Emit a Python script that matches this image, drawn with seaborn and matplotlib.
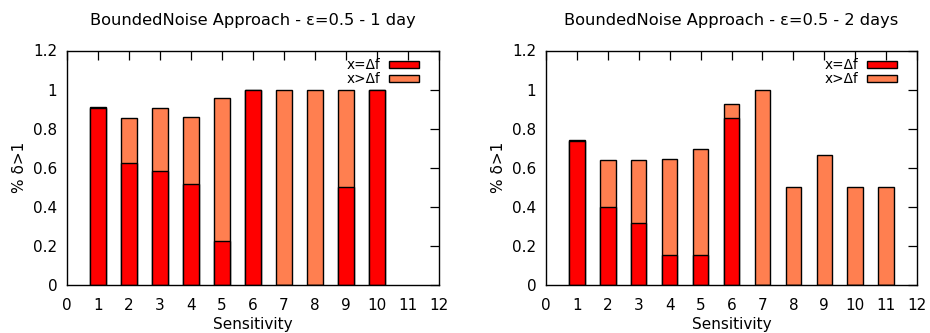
import matplotlib
matplotlib.use("Agg")
import matplotlib.pyplot as plt
from matplotlib.patches import Patch
import seaborn as sns

# Share of runs with delta > 1, split by exact vs. exceeding sensitivity
sens_1day = [1, 2, 3, 4, 5, 6, 7, 8, 9, 10]
eq_1day = [0.905, 0.625, 0.583, 0.517, 0.227, 1.0, 0.0, 0.0, 0.5, 1.0]
gt_1day = [0.005, 0.232, 0.321, 0.345, 0.728, 0.0, 1.0, 1.0, 0.5, 0.0]

sens_2days = [1, 2, 3, 4, 5, 6, 7, 8, 9, 10, 11]
eq_2days = [0.737, 0.397, 0.318, 0.152, 0.153, 0.857, 0.0, 0.0, 0.0, 0.0, 0.0]
gt_2days = [0.003, 0.242, 0.322, 0.492, 0.545, 0.071, 1.0, 0.5, 0.667, 0.5, 0.5]

titles = ["BoundedNoise Approach - \u03b5=0.5 - 1 day",
          "BoundedNoise Approach - \u03b5=0.5 - 2 days"]
legend_labels = ["x=\u0394f", "x>\u0394f"]
x_ticks = list(range(0, 13))
y_ticks = [0, 0.2, 0.4, 0.6, 0.8, 1.0, 1.2]
y_tick_labels = ["0", "0.2", "0.4", "0.6", "0.8", "1", "1.2"]

RED = "#ff0000"
CORAL = "#ff7f50"

sns.set_style("white")
plt.rcParams["font.family"] = ["DejaVu Sans"]
plt.rcParams["text.color"] = "black"
plt.rcParams["axes.labelcolor"] = "black"

fig = plt.figure(figsize=(9.3, 3.33), dpi=100)
ax_left = fig.add_axes([67 / 930, 48 / 333, 372 / 930, 234.5 / 333])
ax_right = fig.add_axes([546 / 930, 48 / 333, 371 / 930, 234.5 / 333])

panels = [
    (ax_left, sens_1day, eq_1day, gt_1day, titles[0]),
    (ax_right, sens_2days, eq_2days, gt_2days, titles[1]),
]

for ax, sens, eq, gt, title in panels:
    total = [a + b for a, b in zip(eq, gt)]
    # upper segment: full stacked height in coral, lower part painted over in red
    sns.barplot(x=sens, y=total, native_scale=True, width=0.5, color=CORAL,
                saturation=1, edgecolor="black", linewidth=1.0,
                errorbar=None, ax=ax)
    sns.barplot(x=sens, y=eq, native_scale=True, width=0.5, color=RED,
                saturation=1, edgecolor="black", linewidth=1.0,
                errorbar=None, ax=ax)
    ax.set_xlim(0, 12)
    ax.set_ylim(0, 1.2)
    ax.set_xticks(x_ticks)
    ax.set_xticklabels([str(t) for t in x_ticks])
    ax.set_yticks(y_ticks)
    ax.set_yticklabels(y_tick_labels)
    ax.tick_params(direction="in", length=6.5, width=0.9, top=True, right=True,
                   labelsize=11, colors="black")
    ax.tick_params(axis="x", pad=9.5)
    ax.tick_params(axis="y", pad=7)
    for sp in ax.spines.values():
        sp.set_visible(True)
        sp.set_color("black")
        sp.set_linewidth(1.0)
    ax.set_xlabel("Sensitivity", fontsize=11, labelpad=2.5, color="black")
    ax.set_ylabel("% \u03b4>1", fontsize=11, labelpad=4, color="black")
    ax.set_title(title, fontsize=11.7, pad=18.5, color="black")
    handles = [Patch(facecolor=RED, edgecolor="black", linewidth=1.0),
               Patch(facecolor=CORAL, edgecolor="black", linewidth=1.0)]
    leg = ax.legend(handles, legend_labels, loc="upper right", frameon=False,
                    markerfirst=False, handlelength=2.15, handleheight=0.47,
                    handletextpad=0.65, labelspacing=0.0, fontsize=9.8,
                    borderaxespad=0.0, bbox_to_anchor=(0.96, 0.99))
    for t in leg.get_texts():
        t.set_color("black")

fig.savefig("out.png", dpi=100)
